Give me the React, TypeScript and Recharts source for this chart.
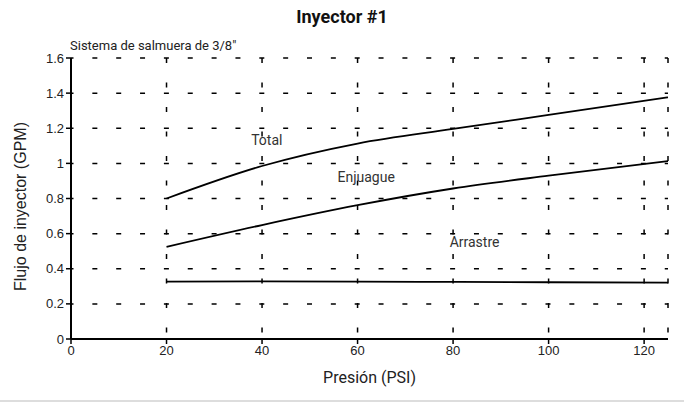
import React from 'react';
import {
  LineChart,
  Line,
  XAxis,
  YAxis,
  CartesianGrid,
  ReferenceDot,
} from 'recharts';

const presion = [20, 40, 60, 80, 100, 125];
const total = [0.8, 0.985, 1.113, 1.196, 1.276, 1.376];
const enjuague = [0.525, 0.649, 0.762, 0.857, 0.93, 1.013];
const arrastre = [0.327, 0.328, 0.327, 0.325, 0.323, 0.321];

const xTicks = [0, 20, 40, 60, 80, 100, 120];
const yTicks = [0, 0.2, 0.4, 0.6, 0.8, 1, 1.2, 1.4, 1.6];

const curveLabels = [
  { text: 'Total', x: 41, y: 1.133 },
  { text: 'Enjuague', x: 61.8, y: 0.922 },
  { text: 'Arrastre', x: 84.5, y: 0.552 },
];

const data = presion.map((p, i) => ({
  p,
  total: total[i],
  enjuague: enjuague[i],
  arrastre: arrastre[i],
}));

const SANS = "Roboto, 'Noto Sans', sans-serif";
const ARIAL = "'Liberation Sans', Arial, sans-serif";

export default function App() {
  return (
    <div
      style={{
        position: 'absolute',
        left: 0,
        top: 0,
        width: 684,
        height: 405,
        background: '#fff',
        overflow: 'hidden',
      }}
    >
      <div
        style={{
          position: 'absolute',
          left: 0,
          width: 684,
          top: 6,
          textAlign: 'center',
          fontFamily: SANS,
          fontWeight: 700,
          fontSize: 18,
          color: '#111',
        }}
      >
        Inyector #1
      </div>
      <div
        style={{
          position: 'absolute',
          left: 70,
          top: 38,
          fontFamily: SANS,
          fontSize: 13,
          color: '#222',
        }}
      >
        Sistema de salmuera de 3/8"
      </div>
      <LineChart
        width={684}
        height={405}
        data={data}
        margin={{ top: 58, right: 16, left: 11, bottom: 36 }}
      >
        <CartesianGrid
          vertical={false}
          stroke="#000"
          strokeWidth={1.5}
          strokeDasharray="5 18.85"
          strokeDashoffset={2.5}
        />
        <CartesianGrid
          horizontal={false}
          stroke="#000"
          strokeWidth={1.5}
          strokeDasharray="5 19.5"
        />
        <XAxis
          type="number"
          dataKey="p"
          domain={[0, 125]}
          ticks={xTicks}
          height={30}
          axisLine={{ stroke: '#000', strokeWidth: 2 }}
          tickLine={{ stroke: '#000', strokeWidth: 1.5 }}
          tickSize={5}
          tick={{ fontSize: 13, fill: '#222', fontFamily: ARIAL }}
          label={{
            value: 'Presión (PSI)',
            position: 'insideBottom',
            offset: -14,
            fontSize: 16,
            fill: '#222',
            fontFamily: SANS,
          }}
        />
        <XAxis
          xAxisId="top"
          orientation="top"
          type="number"
          dataKey="p"
          domain={[0, 125]}
          height={0}
          tick={false}
          tickLine={false}
          axisLine={{ stroke: '#000', strokeWidth: 2 }}
        />
        <YAxis
          type="number"
          domain={[0, 1.6]}
          ticks={yTicks}
          width={60}
          interval={0}
          axisLine={{ stroke: '#000', strokeWidth: 2 }}
          tickLine={{ stroke: '#000', strokeWidth: 1.5 }}
          tickSize={5}
          tick={{ fontSize: 13, fill: '#222', fontFamily: ARIAL }}
          label={{
            value: 'Flujo de inyector (GPM)',
            angle: -90,
            position: 'insideLeft',
            offset: 0,
            dx: 9,
            dy: 8,
            fontSize: 16,
            fill: '#222',
            fontFamily: ARIAL,
            style: { textAnchor: 'middle' },
          }}
        />
        <YAxis
          yAxisId="right"
          orientation="right"
          type="number"
          domain={[0, 1.6]}
          width={0}
          tick={false}
          tickLine={false}
          axisLine={{ stroke: '#000', strokeWidth: 2 }}
        />
        <Line
          type="monotone"
          dataKey="total"
          stroke="#000"
          strokeWidth={1.8}
          dot={false}
          isAnimationActive={false}
        />
        <Line
          type="monotone"
          dataKey="enjuague"
          stroke="#000"
          strokeWidth={1.8}
          dot={false}
          isAnimationActive={false}
        />
        <Line
          type="monotone"
          dataKey="arrastre"
          stroke="#000"
          strokeWidth={1.8}
          dot={false}
          isAnimationActive={false}
        />
        {curveLabels.map((l) => (
          <ReferenceDot
            key={l.text}
            x={l.x}
            y={l.y}
            r={0}
            stroke="none"
            fill="none"
            label={{
              value: l.text,
              position: 'center',
              fontSize: 14,
              fill: '#333',
              fontFamily: SANS,
            }}
          />
        ))}
      </LineChart>
      <div
        style={{
          position: 'absolute',
          left: 0,
          top: 400,
          width: 684,
          height: 2,
          background: '#ddd',
        }}
      />
    </div>
  );
}
